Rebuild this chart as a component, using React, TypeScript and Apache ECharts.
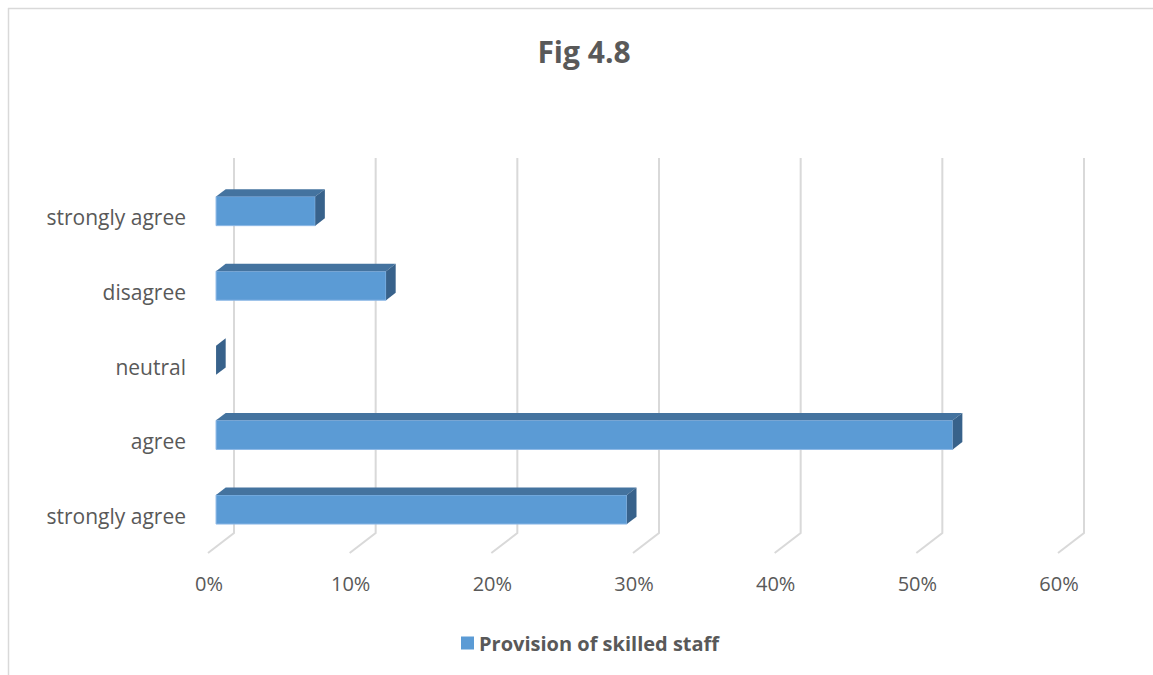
import React, { useEffect, useRef } from "react";
import * as echarts from "echarts";

// Survey responses, listed bottom-to-top as they appear on the axis
const categories = ["strongly agree", "agree", "neutral", "disagree", "strongly agree"];
const shares = [29, 52, 0, 12, 7];
const gridTicks = [0, 10, 20, 30, 40, 50, 60];
const seriesName = "Provision of skilled staff";
const chartTitle = "Fig 4.8";

const FONT = "'Open Sans', 'Noto Sans', sans-serif";
const TEXT_COLOR = "#595959";
const GRID_COLOR = "#D9D9D9";
const FRONT_COLOR = "#5B9BD5";
const TOP_COLOR = "#44739F";
const SIDE_COLOR = "#38628B";

// Oblique depth vector of the 3D floor (screen pixels)
const DEPTH_X = 26;
const DEPTH_Y = -20;
const BAR_FRONT = 0.31;
const BAR_BACK = 0.68;
const BAR_THICKNESS = 0.39;

const renderBar = (params: any, api: any) => {
  const v = api.value(0);
  const idx = api.value(1);
  const start = api.coord([0, idx]);
  const end = api.coord([v, idx]);
  const band = api.size([0, 1])[1];
  const h = band * BAR_THICKNESS;
  const fx = DEPTH_X * BAR_FRONT - 1;
  const fy = DEPTH_Y * BAR_FRONT;
  const dbx = DEPTH_X * (BAR_BACK - BAR_FRONT);
  const dby = DEPTH_Y * (BAR_BACK - BAR_FRONT);
  const x0 = start[0] + fx;
  const x1 = end[0] + fx;
  const yTop = start[1] + fy - h / 2;
  const yBot = start[1] + fy + h / 2;
  const children: any[] = [];
  if (x1 - x0 > 0.5) {
    children.push({
      type: "rect",
      shape: { x: x0, y: yTop, width: x1 - x0, height: h },
      style: { fill: FRONT_COLOR, stroke: "#8DB8E6", lineWidth: 1 },
    });
    children.push({
      type: "polygon",
      shape: {
        points: [
          [x0, yTop],
          [x1, yTop],
          [x1 + dbx, yTop + dby],
          [x0 + dbx, yTop + dby],
        ],
      },
      style: { fill: TOP_COLOR },
    });
  }
  children.push({
    type: "polygon",
    shape: {
      points: [
        [x1, yTop],
        [x1 + dbx, yTop + dby],
        [x1 + dbx, yBot + dby],
        [x1, yBot],
      ],
    },
    style: { fill: SIDE_COLOR },
  });
  return { type: "group", children };
};

const renderGridLine = (params: any, api: any) => {
  const v = api.value(0);
  const x = api.coord([v, 0])[0] - 1;
  const cs = params.coordSys;
  const yb = cs.y + cs.height;
  return {
    type: "polyline",
    shape: {
      points: [
        [x, yb],
        [x + DEPTH_X, yb + DEPTH_Y],
        [x + DEPTH_X, cs.y + DEPTH_Y - 2],
      ],
    },
    style: { stroke: GRID_COLOR, lineWidth: 2, fill: "none" },
  };
};

export default function App() {
  const ref = useRef<HTMLDivElement>(null);

  useEffect(() => {
    if (!ref.current) return;
    const chart = echarts.init(ref.current, null, { renderer: "svg" });
    chart.setOption({
      animation: false,
      backgroundColor: "#FFFFFF",
      textStyle: { fontFamily: FONT },
      graphic: [
        {
          type: "line",
          shape: { x1: 8, y1: 8.5, x2: 1153, y2: 8.5 },
          style: { stroke: GRID_COLOR, lineWidth: 1.5 },
        },
        {
          type: "line",
          shape: { x1: 8.5, y1: 8, x2: 8.5, y2: 675 },
          style: { stroke: GRID_COLOR, lineWidth: 1.5 },
        },
        {
          type: "text",
          x: 584,
          y: 51,
          style: {
            text: chartTitle,
            fill: TEXT_COLOR,
            font: `bold 30px ${FONT}`,
            textAlign: "center",
            textVerticalAlign: "middle",
          },
        },
      ],
      legend: {
        data: [seriesName],
        left: 456,
        top: 628,
        icon: "rect",
        itemWidth: 13,
        itemHeight: 13,
        textStyle: {
          color: TEXT_COLOR,
          fontFamily: FONT,
          fontWeight: "bold",
          fontSize: 20,
        },
      },
      grid: { left: 209, top: 180, width: 850, height: 373, containLabel: false },
      xAxis: {
        type: "value",
        min: 0,
        max: 60,
        interval: 10,
        axisLine: { show: false },
        axisTick: { show: false },
        splitLine: { show: false },
        axisLabel: {
          formatter: "{value}%",
          color: TEXT_COLOR,
          fontFamily: FONT,
          fontSize: 20,
          margin: 20,
        },
      },
      yAxis: {
        type: "category",
        data: categories,
        axisLine: { show: false },
        axisTick: { show: false },
        splitLine: { show: false },
        axisLabel: {
          color: TEXT_COLOR,
          fontFamily: FONT,
          fontSize: 21,
          margin: 23,
        },
      },
      series: [
        {
          type: "custom",
          name: "gridlines",
          renderItem: renderGridLine,
          data: gridTicks.map((t) => [t, 0]),
          encode: { x: 0, y: 1 },
          z: 1,
          silent: true,
        },
        {
          type: "custom",
          name: seriesName,
          renderItem: renderBar,
          itemStyle: { color: FRONT_COLOR },
          data: shares.map((v, i) => [v, i]),
          encode: { x: 0, y: 1 },
          z: 2,
        },
      ],
    });
    return () => chart.dispose();
  }, []);

  return (
    <div
      ref={ref}
      style={{ position: "absolute", left: 0, top: 0, width: 1153, height: 675 }}
    />
  );
}
